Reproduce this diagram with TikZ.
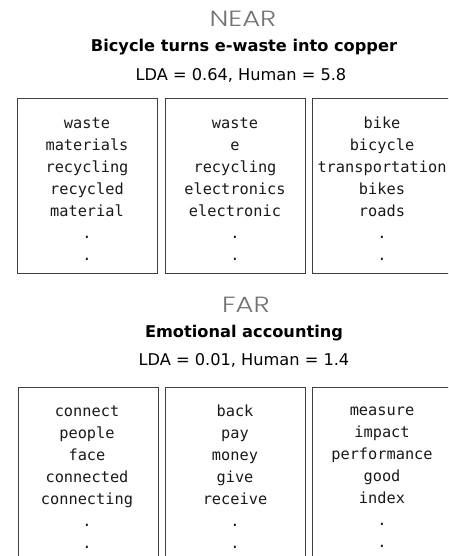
\documentclass[tikz,border=0pt]{standalone}
\usepackage{fontspec}
\setmainfont{DejaVu Sans}
\setmonofont{DejaVu Sans Mono}
\newfontfamily\headfont{Poppins}[UprightFont={* Light}]
\begin{document}
\begin{tikzpicture}[x=1pt,y=-1pt,
  heading/.style={font=\headfont\fontsize{22}{26}\selectfont, text=black!55, inner sep=0pt, transform shape, xscale=1.25},
  title/.style={font=\bfseries\fontsize{16.2}{19}\selectfont, inner sep=0pt},
  score/.style={font=\fontsize{16.2}{19}\selectfont, inner sep=0pt},
  wordbox/.style={draw=black!75, line width=1.1pt, minimum width=140pt, inner sep=0pt, anchor=north west},
  words/.style={font=\ttfamily\fontsize{15.3}{22}\selectfont, align=center, inner sep=0pt, text=black!90}
]
\useasboundingbox (0,0) rectangle (448,556);
\clip (0,0) rectangle (448,556);
% NEAR
\node[heading] (near) at (243,19) {NEAR};
\node[title] (t1) at (244,47) {Bicycle turns e-waste into copper};
\node[score] (s1) at (241,75) {LDA = 0.64, Human = 5.8};
\node[wordbox, minimum height=175pt] (b1) at (17,98) {};
\node[wordbox, minimum height=175pt] (b2) at (165,98) {};
\node[wordbox, minimum height=175pt] (b3) at (312,98) {};
\node[words] (w1) at (87,189) {waste\\materials\\recycling\\recycled\\material\\.\\.};
\node[words] (w2) at (235,189) {waste\\e\\recycling\\electronics\\electronic\\.\\.};
\node[words] (w3) at (382,189) {bike\\bicycle\\transportation\\bikes\\roads\\.\\.};
% FAR
\node[heading] (far) at (246,305) {FAR};
\node[title] (t2) at (244,333) {Emotional accounting};
\node[score] (s2) at (244,360) {LDA = 0.01, Human = 1.4};
\node[wordbox, minimum height=200pt] (b4) at (18,387) {};
\node[wordbox, minimum height=200pt] (b5) at (165,387) {};
\node[wordbox, minimum height=200pt] (b6) at (312,387) {};
\node[words] (w4) at (87,477) {connect\\people\\face\\connected\\connecting\\.\\.};
\node[words] (w5) at (235,477) {back\\pay\\money\\give\\receive\\.\\.};
\node[words] (w6) at (382,477) {measure\\impact\\performance\\good\\index\\.\\.};
\end{tikzpicture}
\end{document}
